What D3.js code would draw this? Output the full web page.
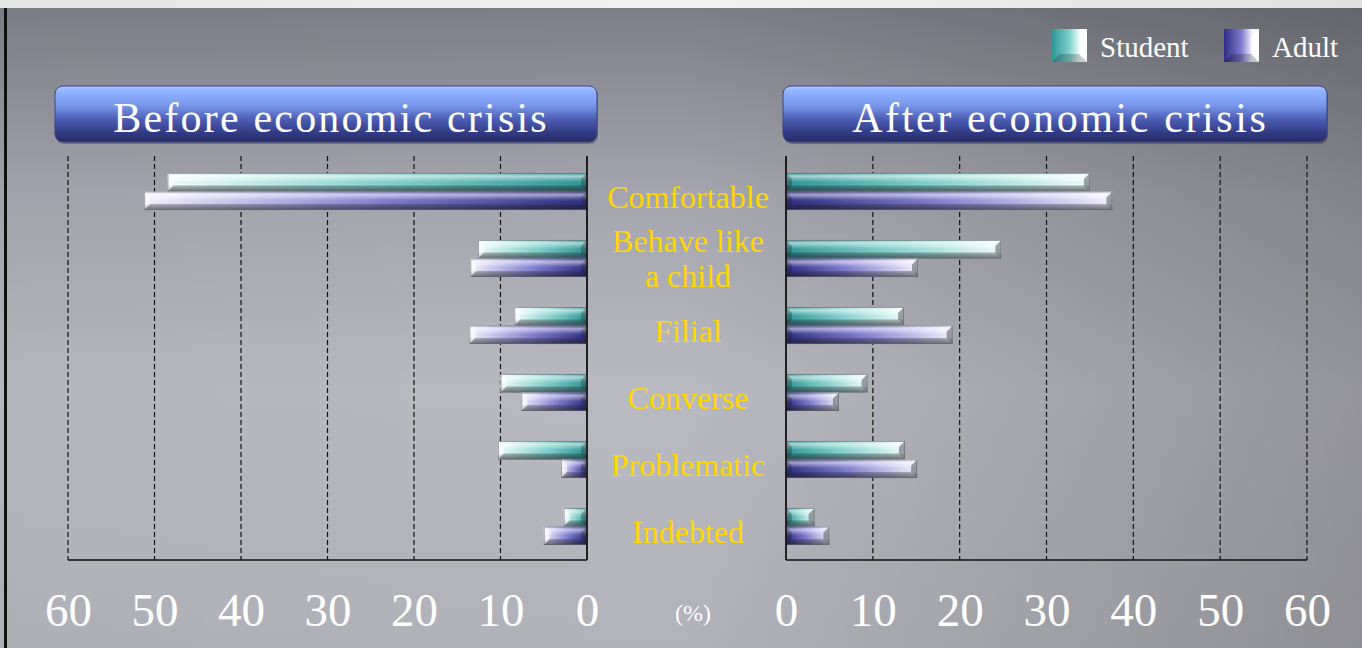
<!DOCTYPE html>
<html><head><meta charset="utf-8">
<script src="https://cdn.jsdelivr.net/npm/d3@7"></script>
<style>body{margin:0;overflow:hidden;background:#fff}</style>
</head><body>
<svg id="c" width="1362" height="648"></svg>
<script>
const categories = ["Comfortable","Behave like a child","Filial","Converse","Problematic","Indebted"];
const categoryLines = [["Comfortable"],["Behave like","a child"],["Filial"],["Converse"],["Problematic"],["Indebted"]];
const seriesNames = ["Student","Adult"];
const beforeStudent = [48.5,12.6,8.4,10.0,10.3,2.7];
const beforeAdult   = [51.2,13.5,13.6,7.6,3.0,5.0];
const afterStudent  = [35.0,24.8,13.6,9.4,13.7,3.3];
const afterAdult    = [37.6,15.2,19.2,6.1,15.1,5.0];
const tickValues = [0,10,20,30,40,50,60];
const panelTitles = ["Before economic crisis","After economic crisis"];
const unitLabel = "(%)";

const svg = d3.select("#c");
const W = 1362, H = 648;
const defs = svg.append("defs");
const serif = "'Liberation Serif','DejaVu Serif',serif";

// background gradients
const bg = defs.append("linearGradient").attr("id","bgV").attr("x1",0).attr("y1",0).attr("x2",0).attr("y2",1);
bg.append("stop").attr("offset","0").attr("stop-color","#7b7d87");
bg.append("stop").attr("offset","0.3").attr("stop-color","#a4a5ae");
bg.append("stop").attr("offset","0.6").attr("stop-color","#b9b9c1");
bg.append("stop").attr("offset","1").attr("stop-color","#b2b2ba");
const bgH = defs.append("linearGradient").attr("id","bgH").attr("x1",0).attr("y1",0).attr("x2",1).attr("y2",0);
bgH.append("stop").attr("offset","0").attr("stop-color","#000").attr("stop-opacity",0.02);
bgH.append("stop").attr("offset","0.5").attr("stop-color","#000").attr("stop-opacity",0);
bgH.append("stop").attr("offset","1").attr("stop-color","#000").attr("stop-opacity",0.2);
const topG = defs.append("linearGradient").attr("id","topG").attr("x1",0).attr("y1",0).attr("x2",1).attr("y2",0);
topG.append("stop").attr("offset","0").attr("stop-color","#e4e4e4");
topG.append("stop").attr("offset","0.5").attr("stop-color","#f2f2f2");
topG.append("stop").attr("offset","1").attr("stop-color","#e0e0e0");

svg.append("rect").attr("width",W).attr("height",H).attr("fill","url(#bgV)");
svg.append("rect").attr("width",W).attr("height",H).attr("fill","url(#bgH)");
svg.append("rect").attr("width",W).attr("height",8).attr("fill","url(#topG)");
svg.append("rect").attr("x",4).attr("y",8).attr("width",3).attr("height",H-8).attr("fill","#111");

// bar gradients
const palette = {
  Student:{dark:"#2f9696", mid:"#7fd0cc", light:"#f2fffd"},
  Adult:{dark:"#2c2c84", mid:"#7e7cd0", light:"#f6f2ff"}
};
function mkGrad(id, s, reverse){
  const g = defs.append("linearGradient").attr("id",id).attr("x1",reverse?1:0).attr("y1",0).attr("x2",reverse?0:1).attr("y2",0);
  g.append("stop").attr("offset","0").attr("stop-color",palette[s].dark);
  g.append("stop").attr("offset","0.45").attr("stop-color",palette[s].mid);
  g.append("stop").attr("offset","1").attr("stop-color",palette[s].light);
}
seriesNames.forEach(s=>{ mkGrad("gR"+s, s, false); mkGrad("gL"+s, s, true); });
const shade = defs.append("linearGradient").attr("id","shade").attr("x1",0).attr("y1",0).attr("x2",0).attr("y2",1);
[[0,"#fff",0.1],[0.18,"#fff",0.55],[0.42,"#fff",0.1],[0.62,"#000",0.0],[0.8,"#000",0.25],[1,"#000",0.45]].forEach(d=>
  shade.append("stop").attr("offset",d[0]).attr("stop-color",d[1]).attr("stop-opacity",d[2]));

// scales
const xL = d3.scaleLinear().domain([0,60]).range([587,68]);
const xR = d3.scaleLinear().domain([0,60]).range([786,1307]);
const y = d3.scaleBand().domain(categories).range([158,560]).padding(0);
const ySub = d3.scaleBand().domain(seriesNames).range([0,y.bandwidth()]).paddingInner(0).paddingOuter(0.81);
const gridTop = 156, gridBot = 560;

function grid(x){
  const g = svg.append("g");
  tickValues.forEach(t=>{
    g.append("line").attr("x1",x(t)).attr("x2",x(t)).attr("y1",gridTop).attr("y2",gridBot)
      .attr("stroke","#111").attr("stroke-width",1.2)
      .attr("stroke-dasharray", t===0 ? null : "5,3");
  });
  g.append("line").attr("x1",x(0)).attr("x2",x(60)).attr("y1",gridBot).attr("y2",gridBot).attr("stroke","#111").attr("stroke-width",1.5);
}
grid(xL); grid(xR);

function bars(x, studentVals, adultVals, left){
  const data = [];
  categories.forEach((c,i)=>{
    data.push({c, s:"Student", v:studentVals[i]});
    data.push({c, s:"Adult", v:adultVals[i]});
  });
  const g = svg.append("g");
  const bg = g.selectAll("g").data(data).join("g");
  bg.each(function(d){
    const sel = d3.select(this);
    const x0 = x(0), x1 = x(d.v);
    const rx = Math.min(x0,x1), w = Math.abs(x1-x0);
    const yy = y(d.c) + ySub(d.s), h = ySub.bandwidth();
    sel.append("rect").attr("x",rx).attr("y",yy).attr("width",w).attr("height",h)
      .attr("fill",`url(#g${left?"L":"R"}${d.s})`);
    sel.append("rect").attr("x",rx).attr("y",yy).attr("width",w).attr("height",h)
      .attr("fill","url(#shade)");
    const b = Math.min(6, w/2);
    const e = left ? rx : rx + w;
    const dir = left ? 1 : -1;
    sel.append("path").attr("d",`M${e},${yy} L${e+dir*b},${yy+b} L${e+dir*b},${yy+h-b} L${e},${yy+h} Z`)
      .attr("fill", left ? "#ffffff" : "#50545c").attr("opacity", 0.55);
    sel.append("path").attr("d",`M${e},${yy+h} L${e+dir*b},${yy+h-b} L${e+dir*w},${yy+h-b} L${e+dir*w},${yy+h} Z`)
      .attr("fill","#30343c").attr("opacity",0.25);
    const z = left ? rx + w : rx;
    sel.append("path").attr("d",`M${z},${yy} L${z-dir*b},${yy+b} L${z-dir*b},${yy+h-b} L${z},${yy+h} Z`)
      .attr("fill","#20242c").attr("opacity",0.3);
    sel.append("rect").attr("x",rx+0.5).attr("y",yy+0.5).attr("width",Math.max(0,w-1)).attr("height",h-1)
      .attr("fill","none").attr("stroke","#60646c").attr("stroke-opacity",0.6).attr("stroke-width",1);
  });
}
bars(xL, beforeStudent, beforeAdult, true);
bars(xR, afterStudent, afterAdult, false);
[xL, xR].forEach(x=> svg.append("line").attr("x1",x(0)).attr("x2",x(0)).attr("y1",gridTop).attr("y2",gridBot).attr("stroke","#111").attr("stroke-width",1.5));

// category labels
const labG = svg.append("g").attr("font-family",serif).attr("font-size",32).attr("fill","#ffd700").attr("text-anchor","middle");
categories.forEach((c,i)=>{
  const lines = categoryLines[i];
  const cy = y(c) + y.bandwidth()/2 + (lines.length===1 ? 5 : 0);
  lines.forEach((ln,j)=>{
    labG.append("text").attr("x",688).attr("y", cy + 11 + (j-(lines.length-1)/2)*35).text(ln);
  });
});

// axis tick labels
function tickAxis(x){
  const ax = svg.append("g").attr("transform",`translate(0,${gridBot})`)
    .call(d3.axisBottom(x).tickValues(tickValues).tickSize(0).tickPadding(0).tickFormat(d3.format("d")));
  ax.select(".domain").remove();
  ax.selectAll("text").attr("font-family",serif).attr("font-size",47).attr("fill","#fff")
    .attr("dy",null).attr("y",66);
}
tickAxis(xL); tickAxis(xR);
svg.append("text").attr("x",693).attr("y",621).attr("text-anchor","middle").attr("font-family",serif)
  .attr("font-size",24).attr("fill","#fff").text(unitLabel);

// title buttons
const tg = defs.append("linearGradient").attr("id","btn").attr("x1",0).attr("y1",0).attr("x2",0).attr("y2",1);
[[0,"#a9c4ff"],[0.12,"#8eb0ff"],[0.35,"#7896ea"],[0.6,"#4c5db3"],[0.85,"#303a82"],[1,"#262c66"]].forEach(d=>
  tg.append("stop").attr("offset",d[0]).attr("stop-color",d[1]));
const btnPad = [[13,10],[3,20]];
[[xL, panelTitles[0]],[xR, panelTitles[1]]].forEach(([x,title],i)=>{
  const a = Math.min(x(0),x(60)), b = Math.max(x(0),x(60));
  const bx = a-btnPad[i][0], bw = (b-a)+btnPad[i][0]+btnPad[i][1];
  svg.append("rect").attr("x",bx+1).attr("y",88).attr("width",bw).attr("height",56).attr("rx",8).attr("fill","#000").attr("opacity",0.25);
  svg.append("rect").attr("x",bx).attr("y",86).attr("width",bw).attr("height",56).attr("rx",8)
    .attr("fill","url(#btn)").attr("stroke","#3a4688").attr("stroke-width",1);
  svg.append("text").attr("x",bx+bw/2+4).attr("y",132).attr("text-anchor","middle").attr("font-family",serif)
    .attr("font-size",42).attr("fill","#fff").attr("textLength", title.length*19.7).attr("lengthAdjust","spacing").text(title);
});

// legend
const legX = [1052, 1224];
seriesNames.forEach((s,i)=>{
  const id = "lg"+s;
  const g = defs.append("linearGradient").attr("id",id).attr("x1",0).attr("y1",0).attr("x2",1).attr("y2",0);
  g.append("stop").attr("offset","0").attr("stop-color",palette[s].dark);
  g.append("stop").attr("offset","0.5").attr("stop-color",palette[s].mid);
  g.append("stop").attr("offset","0.8").attr("stop-color",palette[s].light);
  g.append("stop").attr("offset","1").attr("stop-color","#ffffff");
  const lx = legX[i], ly = 29, lw = 35, lh = 33;
  svg.append("rect").attr("x",lx).attr("y",ly).attr("width",lw).attr("height",lh).attr("fill",`url(#${id})`);
  svg.append("path").attr("d",`M${lx+lw},${ly} L${lx+lw-8},${ly+8} L${lx+lw-8},${ly+lh-8} L${lx+lw},${ly+lh} Z`).attr("fill","#fff").attr("opacity",0.8);
  svg.append("path").attr("d",`M${lx},${ly+lh} L${lx+8},${ly+lh-8} L${lx+lw-8},${ly+lh-8} L${lx+lw},${ly+lh} Z`).attr("fill","#000").attr("opacity",0.2);
  svg.append("text").attr("x",lx+48).attr("y",57).attr("font-family",serif).attr("font-size",29).attr("fill","#fff").text(s);
});
</script>
</body></html>
